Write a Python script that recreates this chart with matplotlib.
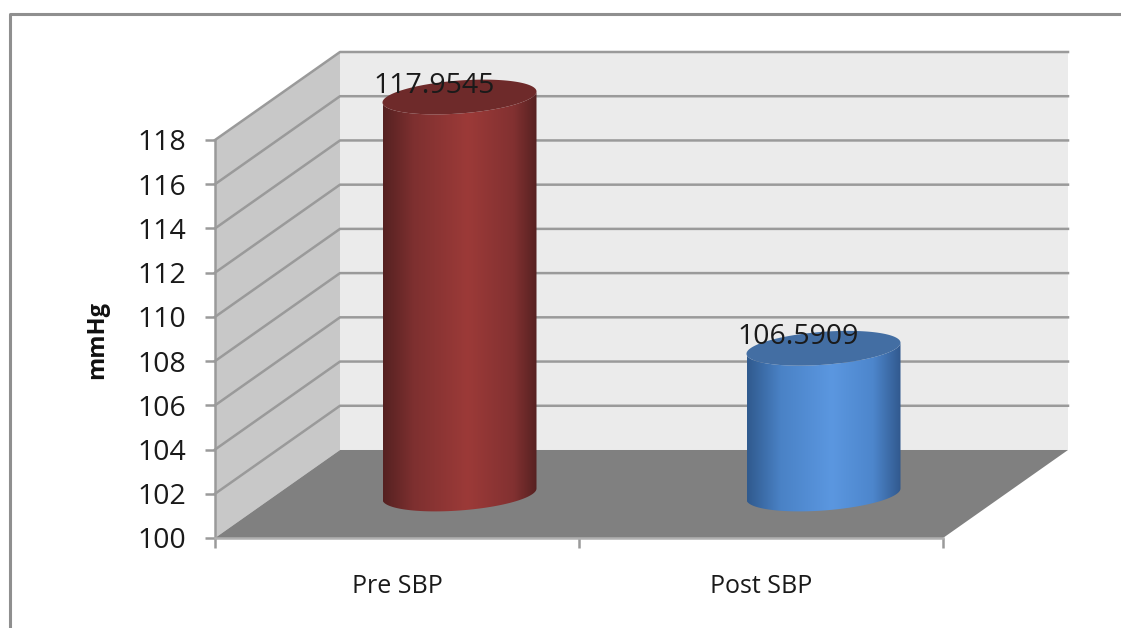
import numpy as np
import matplotlib
matplotlib.use('Agg')
import matplotlib.pyplot as plt
from matplotlib.colors import LinearSegmentedColormap
from matplotlib.lines import Line2D
from matplotlib.patches import Polygon

categories = ['Pre SBP', 'Post SBP']
values = [117.9545, 106.5909]
value_labels = ['117.9545', '106.5909']
y_ticks = [100, 102, 104, 106, 108, 110, 112, 114, 116, 118]

plt.rcParams['font.family'] = ['Open Sans', 'DejaVu Sans']

W, H = 1121, 628
fig = plt.figure(figsize=(W / 100, H / 100), dpi=100, facecolor='white')

# front plane of the 3d box, in pixels
left, right, bottom, top = 215, 943, 538, 140
ax = fig.add_axes([left / W, 1 - bottom / H, (right - left) / W, (bottom - top) / H])
ax.set_xlim(0, 2)
ax.set_ylim(100, 118)
ax.patch.set_visible(False)

# how far the back wall is shifted, in data units
depth_x = 125 / 364
depth_y = 88 / 22.11

grid_color = '#9a9a9a'
y0, y1 = y_ticks[0], y_ticks[-1]

ax.add_patch(Polygon([(depth_x, y0 + depth_y), (2 + depth_x, y0 + depth_y),
                      (2 + depth_x, y1 + depth_y), (depth_x, y1 + depth_y)],
                     fc='#ebebeb', ec='none', clip_on=False, zorder=1))
ax.add_patch(Polygon([(0, y0), (depth_x, y0 + depth_y), (depth_x, y1 + depth_y), (0, y1)],
                     fc='#c8c8c8', ec='none', clip_on=False, zorder=1))
ax.add_patch(Polygon([(0, y0), (2, y0), (2 + depth_x, y0 + depth_y), (depth_x, y0 + depth_y)],
                     fc='#808080', ec='none', clip_on=False, zorder=2))

for tick in y_ticks[1:]:
    ax.plot([0, depth_x, 2 + depth_x], [tick, tick + depth_y, tick + depth_y],
            color=grid_color, lw=1.8, clip_on=False, zorder=1.5)


def draw_cylinder(center, value, stops, top_color):
    a = 77 / 364
    b = 16.5 / 22.11
    k = 5.5 / 22.11
    base = y0 + depth_y / 2
    level = value + depth_y / 2
    cx = center + depth_x / 2
    t = np.linspace(0, np.pi, 80)
    # lower edge of the base, then upper front edge of the top back again
    lower_x = cx - a * np.cos(t)
    lower_y = base - b * np.sin(t) - k * np.cos(t)
    upper_x = cx + a * np.cos(t)
    upper_y = level - b * np.sin(t) + k * np.cos(t)
    body = Polygon(np.column_stack([np.r_[lower_x, upper_x], np.r_[lower_y, upper_y]]),
                   fc='none', ec='none', clip_on=False, transform=ax.transData)
    ax.add_patch(body)
    cmap = LinearSegmentedColormap.from_list('cyl', stops)
    im = ax.imshow(np.linspace(0, 1, 256).reshape(1, -1), cmap=cmap, aspect='auto',
                   extent=(cx - a, cx + a, y0 - 3, y1 + 5), zorder=3, interpolation='bilinear')
    im.set_clip_box(fig.bbox)
    im.set_clip_path(body)
    t = np.linspace(0, 2 * np.pi, 160)
    ax.fill(cx + a * np.cos(t), level + b * np.sin(t) + k * np.cos(t), color=top_color,
            clip_on=False, zorder=4, lw=0)
    return cx, level


red_stops = [(0, '#552121'), (0.2, '#7e3030'), (0.55, '#9c3a38'), (0.85, '#823131'), (1, '#562121')]
blue_stops = [(0, '#305a8e'), (0.22, '#4a82c6'), (0.55, '#5b97e0'), (0.82, '#4d86cc'), (1, '#31598e')]
styles = [(red_stops, '#6e2a2a'), (blue_stops, '#436ea3')]

for i in range(0, len(values)):
    cx, level = draw_cylinder(i + 0.5, values[i], styles[i][0], styles[i][1])
    ax.text(cx - 25 / 364, level + 11 / 22.11, value_labels[i], ha='center', va='center',
            fontsize=20.5, color='#1a1a1a', zorder=5)

# axes
ax.spines['top'].set_visible(False)
ax.spines['right'].set_visible(False)
ax.spines['left'].set_color(grid_color)
ax.spines['bottom'].set_color('#b0b0b0')
ax.spines['left'].set_linewidth(1.8)
ax.spines['bottom'].set_linewidth(1.8)
ax.spines['left'].set_zorder(6)
ax.spines['bottom'].set_zorder(6)

ax.set_yticks(y_ticks)
ax.set_yticklabels([str(v) for v in y_ticks], fontsize=20.5, color='#1a1a1a')
ax.set_xticks([0, 1, 2])
ax.set_xticklabels([])
ax.set_xticks([0.5, 1.5], minor=True)
ax.set_xticklabels(categories, minor=True, fontsize=18, color='#1a1a1a')
ax.tick_params(axis='both', which='major', length=7, width=1.8, color=grid_color)
ax.tick_params(axis='y', pad=14)
ax.tick_params(axis='x', which='minor', length=0, pad=26)
ax.set_ylabel('mmHg', fontsize=17, fontweight='bold', color='#111111')
ax.yaxis.set_label_coords((109 - left) / (right - left), (bottom - 340) / (bottom - top))

# outer chart frame, cut off by the picture edge
fig.add_artist(Line2D([10 / W, 10 / W, 1], [0, 1 - 14 / H, 1 - 14 / H], color='#8f8f8f', lw=2.2))

fig.savefig('out.png', dpi=100)
